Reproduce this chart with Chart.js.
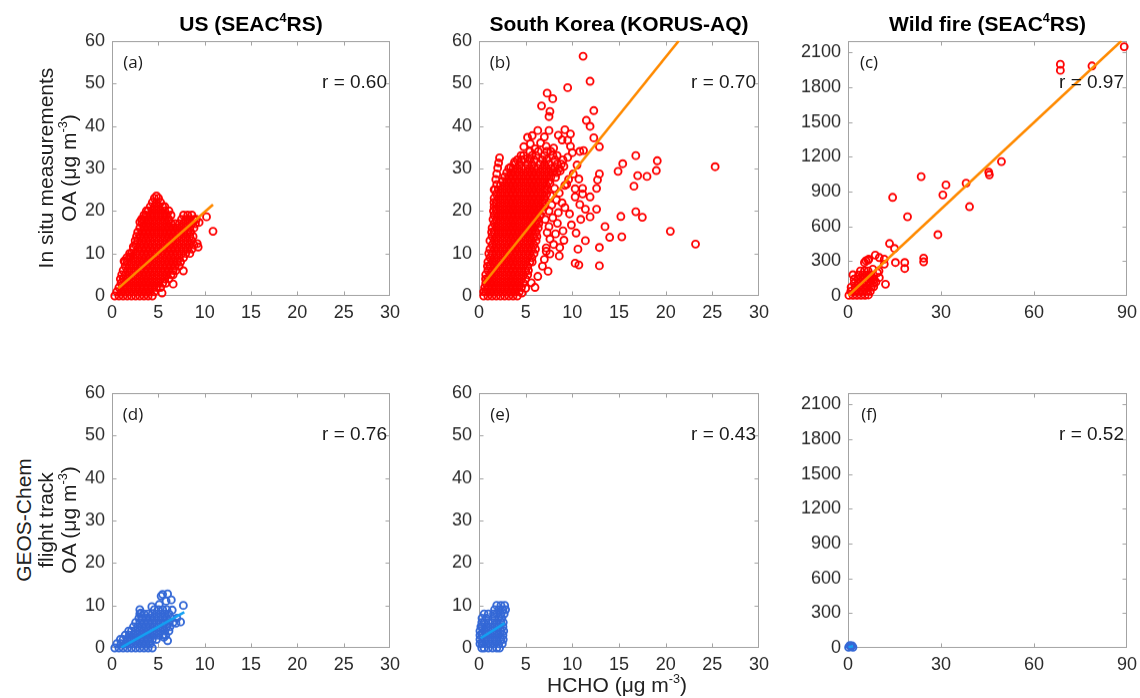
<!DOCTYPE html>
<html>
<head>
<meta charset="utf-8">
<script src="https://cdn.jsdelivr.net/npm/chart.js@4.4.1/dist/chart.umd.min.js"></script>
<style>
  html, body { margin: 0; padding: 0; background: #fff; }
  body { width: 1140px; height: 698px; position: relative; overflow: hidden;
         font-family: "Liberation Sans", Arial, sans-serif; }
  canvas { position: absolute; }
  .t { position: absolute; white-space: nowrap; line-height: 1; }
  .c { transform: translate(-50%, -50%); }
  .r { transform: translate(-100%, -50%); }
  .v { transform: translate(-50%, -50%) rotate(-90deg); }
  .title { font-weight: bold; font-size: 21px; color: #000; }
  .lab { font-size: 21px; color: #222; }
  .tag { font-family: "Open Sans", sans-serif; font-size: 17px; color: #1a1a1a; }
  .rv { font-size: 19px; color: #1a1a1a; }
  sup { font-size: 0.6em; line-height: 0; position: relative; top: -0.1em; vertical-align: super; }
</style>
</head>
<body>
<script>
// ---------- tick labels ----------
const hchoTicks = [0, 5, 10, 15, 20, 25, 30];
const oaTicks = [0, 10, 20, 30, 40, 50, 60];
const fireHchoTicks = [0, 30, 60, 90];
const fireOaTicks = [0, 300, 600, 900, 1200, 1500, 1800, 2100];

// ---------- panel text ----------
const columnTitles = ['US (SEAC<sup>4</sup>RS)', 'South Korea (KORUS-AQ)', 'Wild fire (SEAC<sup>4</sup>RS)'];
const panelTags = ['(a)', '(b)', '(c)', '(d)', '(e)', '(f)'];
const rValues = ['0.60', '0.70', '0.97', '0.76', '0.43', '0.52'];

// ---------- (a) US, in situ OA vs HCHO ----------
// rows: [OA, HCHO, HCHO, ...]
const usObsRows = [
  [0, 0.30, 0.75, 1.20, 1.65, 2.10, 2.55, 3.00, 3.45, 3.90, 4.35],
  [1, 0.52, 0.97, 1.42, 1.87, 2.32, 2.77, 3.22, 3.67, 4.12, 4.57],
  [2, 0.75, 1.20, 1.65, 2.10, 2.55, 3.00, 3.45, 3.90, 4.35, 4.80, 5.25],
  [3, 0.97, 1.42, 1.87, 2.32, 2.77, 3.22, 3.67, 4.12, 4.57, 5.02, 5.47, 5.80],
  [4, 0.90, 1.20, 1.65, 2.10, 2.55, 3.00, 3.45, 3.90, 4.35, 4.80, 5.25, 5.70, 6.15],
  [5, 1.05, 1.42, 1.87, 2.32, 2.77, 3.22, 3.67, 4.12, 4.57, 5.02, 5.47, 5.92, 6.37, 6.60],
  [6, 1.20, 1.65, 2.10, 2.55, 3.00, 3.45, 3.90, 4.35, 4.80, 5.25, 5.70, 6.15, 6.60, 6.90],
  [7, 1.42, 1.87, 2.32, 2.77, 3.22, 3.67, 4.12, 4.57, 5.02, 5.47, 5.92, 6.37, 6.82, 7.25],
  [8, 1.40, 1.65, 2.10, 2.55, 3.00, 3.45, 3.90, 4.35, 4.80, 5.25, 5.70, 6.15, 6.60, 7.05, 7.40],
  [9, 1.60, 1.87, 2.32, 2.77, 3.22, 3.67, 4.12, 4.57, 5.02, 5.47, 5.92, 6.37, 6.82, 7.27, 7.72],
  [10, 1.90, 2.10, 2.55, 3.00, 3.45, 3.90, 4.35, 4.80, 5.25, 5.70, 6.15, 6.60, 7.05, 7.50, 7.95, 8.40],
  [11, 2.32, 2.77, 3.22, 3.67, 4.12, 4.57, 5.02, 5.47, 5.92, 6.37, 6.82, 7.27, 7.72, 8.17, 8.62],
  [12, 2.55, 3.00, 3.45, 3.90, 4.35, 4.80, 5.25, 5.70, 6.15, 6.60, 7.05, 7.50, 7.95, 8.40, 8.85],
  [13, 2.50, 2.77, 3.22, 3.67, 4.12, 4.57, 5.02, 5.47, 5.92, 6.37, 6.82, 7.27, 7.72, 8.17, 8.62],
  [14, 2.65, 3.00, 3.45, 3.90, 4.35, 4.80, 5.25, 5.70, 6.15, 6.60, 7.05, 7.50, 7.95, 8.40, 8.75],
  [15, 2.77, 3.22, 3.67, 4.12, 4.57, 5.02, 5.47, 5.92, 6.37, 6.82, 7.27, 7.72, 8.17, 8.50],
  [16, 3.00, 3.45, 3.90, 4.35, 4.80, 5.25, 5.70, 6.15, 6.60, 7.05, 7.50, 7.95, 8.40, 8.85],
  [17, 3.22, 3.67, 4.12, 4.57, 5.02, 5.47, 5.92, 6.37, 6.82, 7.27, 7.72, 8.17, 8.62, 9.00],
  [18, 3.20, 3.45, 3.90, 4.35, 4.80, 5.25, 5.70, 6.15, 7.50, 7.95, 8.40, 8.85, 9.10],
  [19, 3.45, 3.67, 4.12, 4.57, 5.02, 5.47, 5.92, 6.37, 7.72, 8.17, 8.62],
  [20, 3.70, 3.90, 4.35, 4.80, 5.25, 5.70, 6.15],
  [21, 4.12, 4.57, 5.02, 5.47, 5.70],
  [22, 4.35, 4.80, 5.25],
  [23, 4.57, 5.02]
];
const usObsScatter = [
  [1.3, 8.2], [2.3, 11.6], [2.0, 9.3], [3.2, 18.0], [7.7, 5.9], [10.2, 18.6], [10.9, 15.2],
  [9.3, 11.5], [9.2, 12.3], [9.4, 17.3], [6.6, 2.8], [5.4, 0.7], [3.0, 17.4], [4.8, 23.5]
];
const usObsFit = [[0.68, 1.8], [10.9, 21.5]];

// ---------- (b) South Korea, in situ OA vs HCHO ----------
const koreaObsRows = [
  [0, 0.50, 0.95, 1.40, 1.85, 2.30, 2.75, 3.20, 3.65, 4.10],
  [1, 0.50, 0.72, 1.17, 1.62, 2.07, 2.52, 2.97, 3.42, 3.87, 4.32],
  [2, 0.60, 0.95, 1.40, 1.85, 2.30, 2.75, 3.20, 3.65, 4.10, 4.55],
  [3, 0.72, 1.17, 1.62, 2.07, 2.52, 2.97, 3.42, 3.87, 4.32, 4.77],
  [4, 0.70, 0.95, 1.40, 1.85, 2.30, 2.75, 3.20, 3.65, 4.10, 4.55, 5.00],
  [5, 0.72, 1.17, 1.62, 2.07, 2.52, 2.97, 3.42, 3.87, 4.32, 4.77, 5.22],
  [6, 0.95, 1.40, 1.85, 2.30, 2.75, 3.20, 3.65, 4.10, 4.55, 5.00, 5.30],
  [7, 0.90, 1.17, 1.62, 2.07, 2.52, 2.97, 3.42, 3.87, 4.32, 4.77, 5.22],
  [8, 0.95, 1.40, 1.85, 2.30, 2.75, 3.20, 3.65, 4.10, 4.55, 5.00, 5.45, 5.70],
  [9, 1.17, 1.62, 2.07, 2.52, 2.97, 3.42, 3.87, 4.32, 4.77, 5.22, 5.67],
  [10, 1.05, 1.40, 1.85, 2.30, 2.75, 3.20, 3.65, 4.10, 4.55, 5.00, 5.45, 5.90],
  [11, 1.17, 1.62, 2.07, 2.52, 2.97, 3.42, 3.87, 4.32, 4.77, 5.22, 5.67, 6.05],
  [12, 1.40, 1.85, 2.30, 2.75, 3.20, 3.65, 4.10, 4.55, 5.00, 5.45, 5.90],
  [13, 1.17, 1.62, 2.07, 2.52, 2.97, 3.42, 3.87, 4.32, 4.77, 5.22, 5.67, 6.12],
  [14, 1.40, 1.85, 2.30, 2.75, 3.20, 3.65, 4.10, 4.55, 5.00, 5.45, 5.90, 6.20],
  [15, 1.35, 1.62, 2.07, 2.52, 2.97, 3.42, 3.87, 4.32, 4.77, 5.22, 5.67, 6.12],
  [16, 1.40, 1.85, 2.30, 2.75, 3.20, 3.65, 4.10, 4.55, 5.00, 5.45, 5.90, 6.35],
  [17, 1.62, 2.07, 2.52, 2.97, 3.42, 3.87, 4.32, 4.77, 5.22, 5.67, 6.12, 6.40],
  [18, 1.50, 1.85, 2.30, 2.75, 3.20, 3.65, 4.10, 4.55, 5.00, 5.45, 5.90, 6.35],
  [19, 1.62, 2.07, 2.52, 2.97, 3.42, 3.87, 4.32, 4.77, 5.22, 5.67, 6.12, 6.57],
  [20, 1.55, 1.85, 2.30, 2.75, 3.20, 3.65, 4.10, 4.55, 5.00, 5.45, 5.90, 6.35, 6.80],
  [21, 1.62, 2.07, 2.52, 2.97, 3.42, 3.87, 4.32, 4.77, 5.22, 5.67, 6.12, 6.57, 7.02],
  [22, 1.60, 1.85, 2.30, 2.75, 3.20, 3.65, 4.10, 4.55, 5.00, 5.45, 5.90, 6.35, 6.80, 7.05],
  [23, 1.62, 2.07, 2.52, 2.97, 3.42, 3.87, 4.32, 4.77, 5.22, 5.67, 6.12, 6.57, 7.02],
  [24, 1.85, 2.30, 2.75, 3.20, 3.65, 4.10, 4.55, 5.00, 5.45, 5.90, 6.35, 6.80, 7.25],
  [25, 1.62, 2.07, 2.52, 2.97, 3.42, 3.87, 4.32, 4.77, 5.22, 5.67, 6.12, 6.57, 7.02, 7.25],
  [26, 2.30, 2.75, 3.20, 3.65, 4.10, 4.55, 5.00, 5.45, 5.90, 6.35, 6.80, 7.25],
  [27, 2.52, 2.97, 3.42, 3.87, 4.32, 4.77, 5.22, 5.67, 6.12, 6.57, 7.02, 7.47],
  [28, 2.75, 3.20, 3.65, 4.10, 4.55, 5.00, 5.45, 5.90, 6.35, 6.80, 7.25, 7.70],
  [29, 2.97, 3.42, 3.87, 4.32, 4.77, 5.22, 5.67, 6.12, 6.57, 7.02, 7.47, 7.92, 8.37],
  [30, 3.20, 3.65, 4.10, 4.55, 5.00, 5.45, 5.90, 6.35, 6.80, 7.25, 7.70, 8.15, 8.60],
  [31, 3.87, 4.32, 5.22, 5.67, 6.57, 7.02, 7.47, 8.37, 8.82],
  [32, 4.10, 4.55, 5.45, 5.90, 6.80, 7.25, 8.15, 9.00],
  [33, 4.77, 5.67, 6.12, 7.02, 7.92, 8.37],
  [34, 5.45, 6.35, 7.25, 7.70]
];
const koreaObsScatter = [
  // left spike
  [1.7, 25.0], [1.9, 26.2], [1.8, 27.4], [1.9, 28.7], [2.0, 30.1], [2.1, 31.3], [2.2, 32.5],
  // right fringe of the main cloud
  [7.6, 26.5], [8.1, 25.3], [8.6, 24.2], [9.2, 26.0], [9.6, 27.4], [10.1, 28.7], [10.3, 25.2],
  [10.7, 27.5], [9.4, 26.3], [8.3, 22.6], [7.8, 21.4], [8.9, 21.9], [9.2, 20.8], [9.7, 19.3],
  [8.5, 19.6], [7.9, 18.4], [8.4, 17.1], [7.5, 16.3], [9.0, 15.3], [8.2, 14.6], [7.6, 13.4],
  [9.1, 13.1], [8.0, 12.1], [7.2, 11.3], [8.65, 11.4], [7.6, 9.9], [8.6, 9.4], [7.0, 8.6],
  [6.8, 7.0], [7.4, 5.8], [6.3, 4.6], [5.6, 3.1], [5.0, 1.8], [4.6, 0.7], [6.0, 2.0],
  [7.2, 10.5], [7.3, 14.9], [7.1, 18.0], [7.5, 20.0], [7.7, 23.5], [8.2, 27.9], [8.7, 29.4],
  [9.1, 30.5], [9.5, 32.6], [10.0, 33.7], [9.8, 35.2], [10.8, 34.0], [10.5, 30.8], [10.8, 21.5],
  [10.3, 23.3], [11.1, 24.0], [11.4, 20.4], [10.9, 18.0], [9.9, 16.7], [10.4, 14.8], [11.2, 34.2],
  // upper fringe
  [6.3, 38.9], [5.7, 37.7], [5.2, 37.3], [7.5, 38.9], [9.2, 39.1], [9.8, 38.1], [8.9, 36.7],
  [9.5, 36.6], [4.8, 35.1], [4.5, 33.0], [4.9, 32.2], [6.6, 36.0], [7.2, 35.2], [8.0, 34.8],
  [6.0, 34.6], [5.5, 35.8], [8.5, 37.8], [7.0, 37.4], [3.8, 31.5], [3.4, 30.3],
  // isolated points
  [11.15, 56.4], [11.9, 50.5], [9.5, 49.0], [7.3, 47.7], [7.9, 46.4], [6.7, 44.7], [7.6, 43.4],
  [7.5, 42.2], [12.3, 43.6], [11.5, 41.3], [11.9, 39.9], [12.3, 37.2], [12.9, 35.1], [16.8, 33.0],
  [15.4, 31.1], [14.9, 29.3], [19.1, 31.8], [19.0, 29.5], [18.0, 28.1], [17.0, 28.3], [25.3, 30.4],
  [16.6, 25.8], [12.9, 28.7], [12.7, 27.3], [12.6, 25.3], [11.9, 23.3], [16.8, 19.8], [17.5, 18.5],
  [15.2, 18.7], [12.6, 20.4], [11.9, 18.6], [20.5, 15.2], [13.5, 16.3], [14.0, 13.8], [15.3, 13.9],
  [11.4, 13.0], [23.2, 12.2], [12.9, 11.4], [10.6, 11.0], [12.9, 7.1], [10.3, 7.7], [10.7, 7.3],
  [11.1, 25.3]
];
const koreaObsFit = [[0.5, 2.9], [21.4, 60]];

// ---------- (c) wildfire, in situ OA vs HCHO ----------
const fireObsRows = [
  [5, 0.3, 1.6, 2.9, 4.2, 5.5],
  [40, 0.9, 2.2, 3.5, 4.8, 6.1, 7.2],
  [75, 1.0, 2.3, 3.6, 4.9, 6.2, 7.5],
  [110, 2.0, 3.3, 4.6, 5.9, 7.2, 8.3],
  [145, 2.0, 3.3, 4.6, 5.9, 7.2, 8.4],
  [180, 3.4, 4.7, 6.0, 7.0],
  [215, 4.0, 5.3, 6.5]
];
const fireObsScatter = [
  [1.6, 182], [5.3, 288], [6.5, 309], [5.8, 303], [6.7, 317], [8.8, 352], [10.1, 331],
  [11.7, 317], [11.7, 274], [10.1, 158], [12.1, 101], [10.0, 216], [15.3, 288], [18.3, 288],
  [18.3, 236], [24.4, 326], [24.4, 294], [15.0, 409], [13.4, 452], [19.2, 683], [14.4, 850],
  [29.0, 528], [23.6, 1029], [31.6, 957], [30.6, 871], [38.1, 972], [39.2, 770], [45.4, 1067],
  [45.6, 1045], [49.5, 1159], [68.5, 1998], [68.5, 1946], [78.7, 1984], [89.1, 2150],
  [6.6, 9], [8.0, 230], [7.5, 180], [9.0, 120], [8.3, 80], [9.5, 200], [7.8, 150]
];
const fireObsFit = [[0, 0], [88.2, 2200]];

// ---------- (d) US, GEOS-Chem OA vs HCHO ----------
const usModelRows = [
  [0, 0.30, 0.75, 1.20, 1.65, 2.10, 2.55, 3.00, 3.45, 3.90, 4.35],
  [1, 0.52, 0.97, 1.42, 1.87, 2.32, 2.77, 3.22, 3.67, 4.12],
  [2, 0.90, 1.20, 1.65, 2.10, 2.55, 3.00, 3.45, 3.90, 4.35, 4.80],
  [3, 1.42, 1.87, 2.32, 2.77, 3.22, 3.67, 4.12, 4.57, 5.02, 5.47, 5.80],
  [4, 1.80, 2.10, 2.55, 3.00, 3.45, 3.90, 4.35, 4.80, 5.25, 5.70, 6.15],
  [5, 2.32, 2.77, 3.22, 3.67, 4.12, 4.57, 5.02, 5.47, 5.92, 6.25],
  [6, 2.55, 3.00, 3.45, 3.90, 4.35, 4.80, 5.25, 5.70, 6.15, 6.60],
  [7, 2.90, 3.22, 3.67, 4.12, 4.57, 5.02, 5.47, 5.92, 6.37],
  [8, 3.00, 3.45, 3.90, 4.35, 4.80, 5.25, 5.70, 6.15],
  [9, 4.57, 5.02, 5.47, 5.92]
];
const usModelScatter = [
  [3.0, 9.0], [3.1, 8.2], [5.46, 12.6], [6.0, 12.7], [5.84, 11.0], [6.4, 11.3], [5.3, 12.2],
  [7.7, 10.0], [7.4, 6.1], [6.9, 5.8], [6.0, 1.7], [5.6, 2.5], [7.0, 7.0], [6.5, 8.9],
  [5.1, 10.2], [4.3, 9.7]
];
const usModelFit = [[1.0, 0.1], [7.8, 8.4]];

// ---------- (e) South Korea, GEOS-Chem OA vs HCHO ----------
const koreaModelRows = [
  [0, 0.30, 0.55, 1.00, 1.45, 1.90, 2.20],
  [1, 0.10, 0.32, 0.77, 1.22, 1.67, 2.12, 2.50],
  [2, 0.10, 0.55, 1.00, 1.45, 1.90, 2.35, 2.60],
  [3, 0.10, 0.32, 0.77, 1.22, 1.67, 2.12, 2.57],
  [4, 0.10, 0.55, 1.00, 1.45, 1.90, 2.35, 2.65],
  [5, 0.20, 0.32, 0.77, 1.22, 1.67, 2.12, 2.57],
  [6, 0.30, 0.55, 1.00, 1.45, 1.90, 2.35, 2.60],
  [7, 0.32, 0.77, 1.67, 2.12, 2.45],
  [8, 0.55, 1.00, 1.55, 1.90, 2.35, 2.70],
  [9, 1.67, 2.12, 2.57, 2.85],
  [10, 1.90, 2.35, 2.75]
];
const koreaModelFit = [[0.18, 2.3], [2.75, 5.8]];

// ---------- (f) wildfire, GEOS-Chem OA vs HCHO ----------
const fireModelScatter = [[0.2, 5], [0.9, 12], [1.6, 6], [0.6, 20], [1.3, 18]];
const fireModelFit = [[0.2, 4], [1.6, 16]];

// ---------- layout of the six plot areas (page pixels) ----------
const panelBoxes = [
  { L: 112, T: 41, R: 390, B: 295 },
  { L: 479, T: 41, R: 759, B: 295 },
  { L: 848, T: 41, R: 1127, B: 295 },
  { L: 112, T: 393, R: 390, B: 647 },
  { L: 479, T: 393, R: 759, B: 647 },
  { L: 848, T: 393, R: 1127, B: 647 }
];
const M = { left: 75, top: 14, right: 18, bottom: 36 };

const RED = '#ff0000', ORANGE = '#ff8a00', BLUE = '#3468d6', SKY = '#14a0f2';

const pairPts = pairs => pairs.map(([x, y]) => ({ x, y }));
const rowPts = rows => rows.flatMap(([y, ...xs]) => xs.map(x => ({ x, y })));

const panels = [
  { pts: [...rowPts(usObsRows), ...pairPts(usObsScatter)], fit: usObsFit, mark: RED, line: ORANGE,
    xMax: 30, yMax: 60, xt: hchoTicks, yt: oaTicks },
  { pts: [...rowPts(koreaObsRows), ...pairPts(koreaObsScatter)], fit: koreaObsFit, mark: RED, line: ORANGE,
    xMax: 30, yMax: 60, xt: hchoTicks, yt: oaTicks },
  { pts: [...rowPts(fireObsRows), ...pairPts(fireObsScatter)], fit: fireObsFit, mark: RED, line: ORANGE,
    xMax: 90, yMax: 2200, xt: fireHchoTicks, yt: fireOaTicks },
  { pts: [...rowPts(usModelRows), ...pairPts(usModelScatter)], fit: usModelFit, mark: BLUE, line: SKY,
    xMax: 30, yMax: 60, xt: hchoTicks, yt: oaTicks },
  { pts: rowPts(koreaModelRows), fit: koreaModelFit, mark: BLUE, line: SKY,
    xMax: 30, yMax: 60, xt: hchoTicks, yt: oaTicks },
  { pts: pairPts(fireModelScatter), fit: fireModelFit, mark: BLUE, line: SKY,
    xMax: 90, yMax: 2200, xt: fireHchoTicks, yt: fireOaTicks }
];

// box round the plot area with short inward tick marks on all four sides
const framePlugin = {
  id: 'frame',
  beforeDatasetsDraw(chart) {
    const { ctx, chartArea: a, scales: { x, y } } = chart;
    const l = Math.round(a.left) + 0.5, r = Math.round(a.right) - 0.5;
    const t = Math.round(a.top) + 0.5, b = Math.round(a.bottom) - 0.5;
    const len = 4;
    ctx.save();
    ctx.strokeStyle = '#a3a3a3';
    ctx.lineWidth = 1;
    ctx.strokeRect(l, t, r - l, b - t);
    ctx.beginPath();
    x.ticks.forEach(tk => {
      const px = Math.round(x.getPixelForValue(tk.value)) + 0.5;
      if (px <= l + 1 || px >= r - 1) return;
      ctx.moveTo(px, b); ctx.lineTo(px, b - len);
      ctx.moveTo(px, t); ctx.lineTo(px, t + len);
    });
    y.ticks.forEach(tk => {
      const py = Math.round(y.getPixelForValue(tk.value)) + 0.5;
      if (py <= t + 1 || py >= b - 1) return;
      ctx.moveTo(l, py); ctx.lineTo(l + len, py);
      ctx.moveTo(r, py); ctx.lineTo(r - len, py);
    });
    ctx.stroke();
    ctx.restore();
  }
};

const tickFont = { family: '"Liberation Sans", Arial, sans-serif', size: 18 };

function chartConfig(p) {
  return {
    type: 'scatter',
    data: {
      datasets: [
        { data: pairPts(p.fit), showLine: true, borderColor: p.line, borderWidth: 2.6,
          pointRadius: 0, fill: false, order: 0 },
        { data: p.pts, pointStyle: 'circle', pointRadius: 3.5, pointBorderWidth: 1.85,
          borderColor: p.mark, backgroundColor: 'rgba(0,0,0,0)', clip: false, order: 1 }
      ]
    },
    options: {
      responsive: false, maintainAspectRatio: false, animation: false, events: [],
      devicePixelRatio: 1,
      layout: { autoPadding: false, padding: { left: 0, top: M.top, right: M.right, bottom: 0 } },
      plugins: { legend: { display: false }, tooltip: { enabled: false } },
      scales: {
        x: {
          type: 'linear', min: 0, max: p.xMax,
          afterBuildTicks: s => { s.ticks = p.xt.map(v => ({ value: v })); },
          afterFit: s => { s.height = M.bottom; },
          grid: { display: false, drawTicks: false }, border: { display: false },
          ticks: { font: tickFont, color: '#2a2a2a', padding: 6, maxRotation: 0, autoSkip: false,
                   callback: v => String(v) }
        },
        y: {
          type: 'linear', min: 0, max: p.yMax,
          afterBuildTicks: s => { s.ticks = p.yt.map(v => ({ value: v })); },
          afterFit: s => { s.width = M.left; },
          grid: { display: false, drawTicks: false }, border: { display: false },
          ticks: { font: tickFont, color: '#2a2a2a', padding: 7, autoSkip: false,
                   callback: v => String(v) }
        }
      }
    },
    plugins: [framePlugin]
  };
}

panels.forEach((p, i) => {
  const box = panelBoxes[i];
  const plotW = box.R - box.L, plotH = box.B - box.T;
  let w = M.left + plotW + M.right;
  let h = M.top + plotH + M.bottom;
  let offL = M.left, offT = M.top;
  let chart = null, cv = null;
  // build, then rebuild with the canvas sized so the plot area lands on its box
  for (let pass = 0; pass < 3; pass++) {
    if (chart) { chart.destroy(); cv.remove(); }
    cv = document.createElement('canvas');
    cv.width = w; cv.height = h;
    cv.style.width = w + 'px'; cv.style.height = h + 'px';
    document.body.appendChild(cv);
    chart = new Chart(cv.getContext('2d'), chartConfig(p));
    const a = chart.chartArea;
    offL = a.left; offT = a.top;
    const gotW = a.right - a.left, gotH = a.bottom - a.top;
    if (Math.abs(gotW - plotW) < 0.5 && Math.abs(gotH - plotH) < 0.5) break;
    w += plotW - gotW;
    h += plotH - gotH;
  }
  cv.style.left = (box.L - offL) + 'px';
  cv.style.top = (box.T - offT) + 'px';

  // panel letter and correlation coefficient
  const tag = document.createElement('div');
  tag.className = 't tag c';
  tag.textContent = panelTags[i];
  tag.style.left = (box.L + 21) + 'px';
  tag.style.top = (box.T + 20) + 'px';
  document.body.appendChild(tag);

  const rv = document.createElement('div');
  rv.className = 't rv r';
  rv.textContent = 'r = ' + rValues[i];
  rv.style.left = (box.R - 3) + 'px';
  rv.style.top = (box.T + 40) + 'px';
  document.body.appendChild(rv);
});

// column titles
columnTitles.forEach((txt, j) => {
  const box = panelBoxes[j];
  const d = document.createElement('div');
  d.className = 't title c';
  d.innerHTML = txt;
  d.style.left = ((box.L + box.R) / 2) + 'px';
  d.style.top = '23px';
  document.body.appendChild(d);
});

// axis titles
const axisText = [
  { html: 'In situ measurements', x: 45, y: 168, rot: true },
  { html: 'OA (&mu;g m<sup>-3</sup>)', x: 68, y: 168, rot: true },
  { html: 'GEOS-Chem', x: 23, y: 520, rot: true },
  { html: 'flight track', x: 45, y: 520, rot: true },
  { html: 'OA (&mu;g m<sup>-3</sup>)', x: 68, y: 520, rot: true },
  { html: 'HCHO (&mu;g m<sup>-3</sup>)', x: 617, y: 684, rot: false }
];
axisText.forEach(a => {
  const d = document.createElement('div');
  d.className = 't lab ' + (a.rot ? 'v' : 'c');
  d.innerHTML = a.html;
  d.style.left = a.x + 'px';
  d.style.top = a.y + 'px';
  document.body.appendChild(d);
});
</script>
</body>
</html>
